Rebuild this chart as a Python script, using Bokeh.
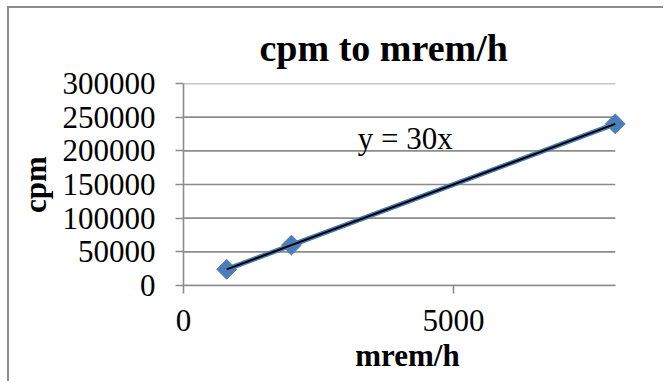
from bokeh.plotting import figure
from bokeh.models import Range1d, FixedTicker, BasicTickFormatter, Label
from bokeh.embed import file_html
from bokeh.resources import INLINE

# data
mrem_h = [800, 2000, 8000]
cpm = [24000, 60000, 240000]
slope = 30
trend_x = [800, 8000]
trend_y = [slope * v for v in trend_x]
x_ticks = [0, 5000]
y_ticks = [0, 50000, 100000, 150000, 200000, 250000, 300000]
x_max_data = 8000

FONT = "Liberation Serif"
GRAY = "#8c8c8c"
BLUE = "#4a7ebb"

p = figure(width=656, height=375, output_backend="svg", toolbar_location=None,
           x_range=Range1d(0, 8300), y_range=Range1d(0, 300000),
           min_border_left=174, min_border_right=34, min_border_top=75,
           min_border_bottom=98)
p.styles = {"border-top": f"2px solid {GRAY}", "border-left": f"2px solid {GRAY}",
            "margin-left": "7px", "margin-top": "6px"}
p.outline_line_color = None
p.background_fill_color = "white"
p.border_fill_color = "white"

p.title.text = "cpm to mrem/h"
p.title.text_font = FONT
p.title.text_font_size = "38px"
p.title.text_font_style = "bold"
p.title.text_color = "black"
p.title.align = "left"
p.title.offset = 76
p.title.standoff = 30

p.xgrid.visible = False
p.ygrid.visible = False

# horizontal gridlines limited to the data width
p.segment(x0=[0] * len(y_ticks), x1=[x_max_data] * len(y_ticks), y0=y_ticks, y1=y_ticks,
          line_color=GRAY, line_width=1.6)

for ax in (p.xaxis, p.yaxis):
    ax.axis_line_color = GRAY
    ax.axis_line_width = 1.6
    ax.major_tick_line_color = GRAY
    ax.major_tick_line_width = 1.6
    ax.major_tick_in = 0
    ax.major_tick_out = 8
    ax.minor_tick_line_color = None
    ax.major_label_text_font = FONT
    ax.major_label_text_font_size = "31px"
    ax.major_label_text_color = "black"
    ax.axis_label_text_font = FONT
    ax.axis_label_text_font_size = "31px"
    ax.axis_label_text_font_style = "bold"
    ax.axis_label_text_color = "black"
    ax.formatter = BasicTickFormatter(use_scientific=False)

p.xaxis.ticker = FixedTicker(ticks=x_ticks)
p.yaxis.ticker = FixedTicker(ticks=y_ticks)
p.xaxis.bounds = (0, x_max_data)
p.xaxis.axis_label = "mrem/h"
p.yaxis.axis_label = "cpm"
p.xaxis.major_label_standoff = 16
p.yaxis.major_label_standoff = 20
p.xaxis.axis_label_standoff = 4
p.yaxis.axis_label_standoff = 7

# series
p.line(mrem_h, cpm, line_color=BLUE, line_width=5)
p.scatter(mrem_h, cpm, marker="square", angle=0.785398, size=14,
          fill_color=BLUE, line_color=BLUE)
# trendline
p.line(trend_x, trend_y, line_color="black", line_width=2)

p.add_layout(Label(x=3230, y=218000, text="y = 30x", text_font=FONT,
                   text_font_size="31px", text_baseline="alphabetic",
                   text_color="black"))

open("out.html", "w").write(file_html(p, INLINE))
